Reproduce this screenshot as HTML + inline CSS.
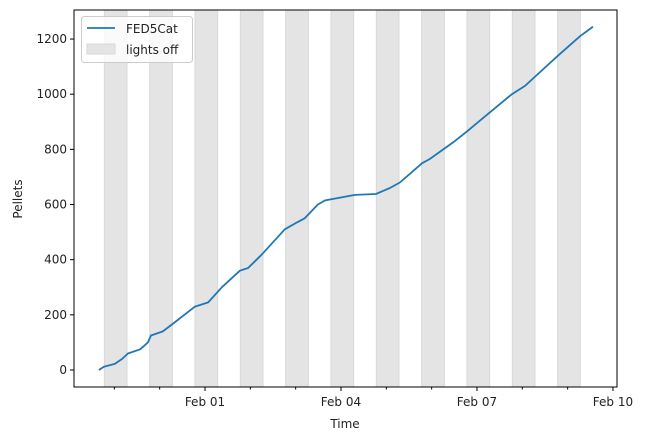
<!DOCTYPE html>
<html><head><meta charset="utf-8"><style>
body{margin:0;background:#fff;font-family:"Liberation Sans","DejaVu Sans",sans-serif}
svg text{font-family:"DejaVu Sans","Liberation Sans",sans-serif;font-size:12px;fill:#222}
</style></head><body>
<svg id="chart" width="645" height="440"></svg>
<script>
// days since Jan 29 00:00
const days=[0.66,0.77,1.01,1.17,1.30,1.57,1.74,1.81,2.07,2.27,2.78,3.07,3.37,3.77,3.95,4.26,4.76,5.03,5.20,5.49,5.65,5.98,6.31,6.77,7.08,7.30,7.79,7.96,8.51,8.78,9.18,9.77,10.06,10.39,10.79,11.27,11.56];
const pellets=[0,12,22,40,60,75,100,125,140,165,230,245,300,360,370,420,510,535,550,600,615,625,635,638,660,680,750,765,830,865,920,1000,1030,1080,1140,1210,1245];
const lightsOffStart=[0.78,1.78,2.78,3.78,4.78,5.78,6.78,7.78,8.78,9.78,10.78];
const lightsOffDur=0.5;
const yTicks=[0,200,400,600,800,1000,1200];
const xTickDays=[3,6,9,12];
const xTickLabels=["Feb 01","Feb 04","Feb 07","Feb 10"];
const minorDays=[1,2,4,5,7,8,10,11];

const L=74,R=617,T=10,B=387;
const X=d=>69+d*45.33;
const Y=v=>370-v*0.2758;
const svg=document.getElementById('chart');
const NS='http://www.w3.org/2000/svg';
function mk(tag,attrs,parent){const e=document.createElementNS(NS,tag);for(const k in attrs)e.setAttribute(k,attrs[k]);(parent||svg).appendChild(e);return e;}

lightsOffStart.forEach(s=>{
  const r=mk('rect',{x:X(s),y:T,width:X(s+lightsOffDur)-X(s),height:B-T,fill:'#e4e4e4',stroke:'#d8d8d8','stroke-width':1});
  
  
});
const pts=days.map((d,i)=>X(d).toFixed(1)+','+Y(pellets[i]).toFixed(1)).join(' ');
const line=mk('polyline',{points:pts,fill:'none',stroke:'#1f77b4','stroke-width':1.8,'stroke-linejoin':'round'});



const frame=mk('rect',{x:L,y:T,width:R-L,height:B-T,fill:'none',stroke:'#000','stroke-width':1});



yTicks.forEach(v=>{
  mk('line',{x1:L-4,x2:L,y1:Y(v),y2:Y(v),stroke:'#000'});
  const t=mk('text',{x:L-7,y:Y(v)+4,'text-anchor':'end'});t.textContent=v;
  
  
});
xTickDays.forEach((d,i)=>{
  mk('line',{x1:X(d),x2:X(d),y1:B,y2:B+4,stroke:'#000'});
  const t=mk('text',{x:X(d),y:B+19,'text-anchor':'middle'});t.textContent=xTickLabels[i];
  
  
});
minorDays.forEach(d=>mk('line',{x1:X(d),x2:X(d),y1:B,y2:B+2.5,stroke:'#000'}));
</script>
<svg style="position:absolute;left:0;top:0" width="645" height="440">
<text x="345" y="428" text-anchor="middle">Time</text>
<text transform="translate(22,199) rotate(-90)" text-anchor="middle">Pellets</text>
<g>
<rect x="81.5" y="16.5" width="111" height="46" rx="3" fill="#fff" fill-opacity="0.8" stroke="#ccc"/>
<line x1="87" y1="28" x2="115" y2="28" stroke="#1f77b4" stroke-width="1.8"/>
<text x="126" y="33">FED5Cat</text>
<rect x="87" y="44" width="28" height="10" fill="#e4e4e4" stroke="#d8d8d8"/>
<text x="126" y="54">lights off</text>
</g>
</svg>
</body></html>
